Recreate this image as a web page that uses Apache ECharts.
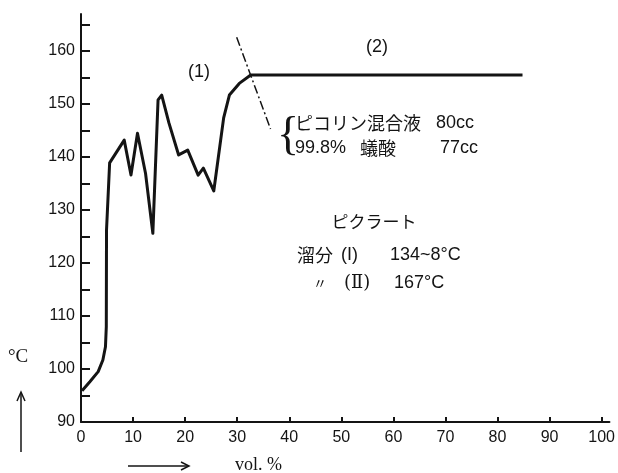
<!DOCTYPE html>
<html>
<head>
<meta charset="utf-8">
<script src="https://cdn.jsdelivr.net/npm/echarts@6/dist/echarts.min.js"></script>
<style>
  html, body { margin: 0; padding: 0; background: #fff; }
  #chart { width: 618px; height: 473px; }
</style>
</head>
<body>
<div id="chart"></div>
<script>
// Distillation curve: vol. % distilled vs. head temperature (°C)
const volPct = [0.2, 1.7, 3.3, 4.2, 4.7, 4.86, 4.9, 5.5, 8.3, 9.6, 10.85, 12.4, 13.8, 14.8, 15.5, 16.9, 18.75, 20.5, 22.5, 23.5, 25.5, 26.3, 27.4, 28.5, 30.4, 32.6, 84.8];
const tempC  = [95.9, 97.6, 99.5, 101.7, 104.2, 108.0, 126.2, 138.9, 143.2, 136.6, 144.5, 136.9, 125.6, 150.8, 151.7, 146.4, 140.4, 141.3, 136.6, 137.9, 133.6, 139.4, 147.4, 151.7, 153.9, 155.5, 155.5];

// Dash-dot cut line separating fractions (1) and (2)
const cutVol  = [29.9, 36.4];
const cutTemp = [162.6, 145.3];

const xTickLabels = [0, 10, 20, 30, 40, 50, 60, 70, 80, 90, 100];
const xTicks = [10, 20, 30, 40, 50, 60, 70, 80, 90, 100];
const yTickLabels = [90, 100, 110, 120, 130, 140, 150, 160];
const yTicks = [95, 100, 105, 110, 115, 120, 125, 130, 135, 140, 145, 150, 155, 160, 165];

const ink = '#141414';
const numFont = '"Liberation Sans", "DejaVu Sans", sans-serif';
const jpFont = '"Noto Sans CJK JP", sans-serif';

const chart = echarts.init(document.getElementById('chart'), null, { renderer: 'canvas' });

function txt(x, y, text, size, font, align) {
  return {
    type: 'text', x: x, y: y,
    style: { text: text, fill: ink, fontSize: size, fontFamily: font || numFont,
             align: align || 'left', verticalAlign: 'middle' }
  };
}

chart.setOption({
  backgroundColor: '#ffffff',
  animation: false,
  grid: { left: 81, right: 0, top: 14, bottom: 51, containLabel: false },
  xAxis: {
    type: 'value', min: 0, max: 101.5,
    axisLine: { show: true, lineStyle: { color: ink, width: 2 } },
    axisTick: { show: true, inside: true, length: 5, customValues: xTicks, lineStyle: { color: ink, width: 2 } },
    axisLabel: { customValues: xTickLabels, color: ink, fontSize: 16, fontFamily: numFont, margin: 8 },
    splitLine: { show: false }
  },
  yAxis: {
    type: 'value', min: 90, max: 167,
    axisLine: { show: true, lineStyle: { color: ink, width: 2 } },
    axisTick: { show: true, inside: true, length: 9, customValues: yTicks, lineStyle: { color: ink, width: 2 } },
    axisLabel: { customValues: yTickLabels, color: ink, fontSize: 16, fontFamily: numFont, margin: 6 },
    splitLine: { show: false }
  },
  series: [
    {
      type: 'line', smooth: false, symbol: 'none',
      data: volPct.map((v, i) => [v, tempC[i]]),
      lineStyle: { color: ink, width: 3, join: 'round' }
    },
    {
      type: 'line', symbol: 'none',
      data: cutVol.map((v, i) => [v, cutTemp[i]]),
      lineStyle: { color: ink, width: 1.5, type: [9, 3, 2, 3] }
    }
  ],
  graphic: [
    txt(188, 72, '(1)', 18),
    txt(366, 47, '(2)', 18),
    txt(277, 137, '{', 46, '"Liberation Serif", serif'),
    txt(295, 123, 'ピコリン混合液', 18, jpFont),
    txt(436, 123, '80cc', 18),
    txt(295, 148, '99.8%', 18),
    txt(360, 148, '蟻酸', 18, jpFont),
    txt(440, 148, '77cc', 18),
    txt(374, 222, 'ピクラート', 17, jpFont, 'center'),
    txt(297, 255, '溜分', 18, jpFont),
    txt(341, 255, '(I)', 18),
    txt(390, 255, '134~8°C', 18),
    txt(313, 283, '〃', 14, jpFont),
    txt(344, 283, '(Ⅱ)', 18, '"DejaVu Serif", serif'),
    txt(394, 283, '167°C', 18),
    txt(8, 357, '°C', 19, '"Liberation Serif", serif'),
    txt(235, 465, 'vol. %', 18, '"Liberation Serif", serif'),
    // horizontal arrow under the x axis
    { type: 'line', shape: { x1: 128, y1: 466, x2: 188, y2: 466 }, style: { stroke: ink, lineWidth: 1.5 } },
    { type: 'polyline', shape: { points: [[181, 462], [189, 466], [181, 470]] }, style: { stroke: ink, lineWidth: 1.5, fill: null } },
    // vertical arrow beside the y axis
    { type: 'line', shape: { x1: 21, y1: 452, x2: 21, y2: 393 }, style: { stroke: ink, lineWidth: 1.5 } },
    { type: 'polyline', shape: { points: [[17, 401], [21, 392], [25, 401]] }, style: { stroke: ink, lineWidth: 1.5, fill: null } }
  ]
});
</script>
</body>
</html>
